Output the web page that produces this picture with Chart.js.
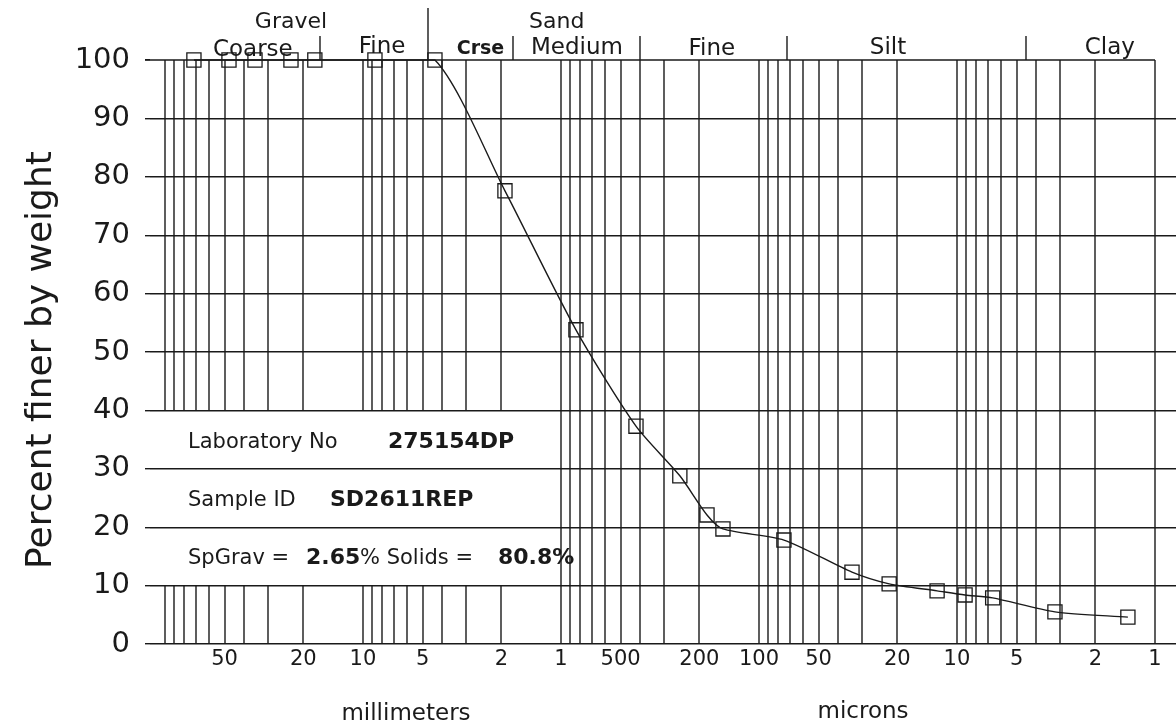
<!DOCTYPE html>
<html>
<head>
<meta charset="utf-8">
<script src="https://cdn.jsdelivr.net/npm/chart.js@4.4.1/dist/chart.umd.min.js"></script>
<style>
  html, body { margin: 0; padding: 0; background: #fff; overflow: hidden; }
  #grain { display: block; }
</style>
</head>
<body>
<canvas id="grain" width="1176" height="727"></canvas>
<script>
// particle size (microns) and percent finer by weight
const sizeUm = [71400, 47500, 35100, 23100, 17500, 8700, 4330, 1918, 840, 418, 251, 183, 152, 74.8, 33.9, 22.0, 12.6, 9.1, 6.6, 3.2, 1.37]
const percentFiner = [100, 100, 100, 100, 100, 100, 100, 77.6, 53.8, 37.3, 28.8, 22.1, 19.7, 17.8, 12.3, 10.3, 9.1, 8.4, 7.9, 5.5, 4.6]

// labelled sizes on the bottom axis (microns); >= 1000 shown in mm
const xLabelValues = [50000, 20000, 10000, 5000, 2000, 1000, 500, 200, 100, 50, 20, 10, 5, 2, 1]
const yLabelValues = [0, 10, 20, 30, 40, 50, 60, 70, 80, 90, 100]

// class boundaries across the top (microns)
const classBreaks = [16500, 4700, 1750, 400, 72, 4.5]
const classNames = ['Gravel', 'Coarse', 'Fine', 'Sand', 'Crse', 'Medium', 'Fine', 'Silt', 'Clay']

const sampleInfo = ['Laboratory No', '275154DP', 'Sample ID', 'SD2611REP', 'SpGrav =', '2.65', '% Solids =', '80.8%']

const FONT = 'DejaVu Sans'
const INK = '#1a1a1a'

// log grid 1..9 per decade, 1 um .. 100 mm
const gridValues = []
for (let k = 0; k <= 4; k++) {
  for (let d = 1; d <= 9; d++) gridValues.push(d * Math.pow(10, k))
}
gridValues.push(100000)

const points = sizeUm.map((s, i) => ({ x: s, y: percentFiner[i] }))

const sheetPlugin = {
  id: 'sheet',
  beforeDatasetsDraw (chart) {
    const { ctx, chartArea, scales } = chart
    const x = scales.x
    const y = scales.y
    const top = y.getPixelForValue(100)
    const bot = y.getPixelForValue(0)
    const gapTop = y.getPixelForValue(40)
    const gapBot = y.getPixelForValue(10)

    ctx.save()
    ctx.strokeStyle = INK
    ctx.lineWidth = 1.4
    ctx.beginPath()
    gridValues.forEach(v => {
      const px = Math.round(x.getPixelForValue(v))
      if (v > 1000) {
        ctx.moveTo(px, top); ctx.lineTo(px, gapTop)
        ctx.moveTo(px, gapBot); ctx.lineTo(px, bot)
      } else {
        ctx.moveTo(px, top); ctx.lineTo(px, bot)
      }
    })
    // top border stops at 1 micron
    const t = Math.round(top)
    ctx.moveTo(chartArea.left - 5, t)
    ctx.lineTo(Math.round(x.getPixelForValue(1)), t)
    // class separators in the header
    classBreaks.forEach(v => {
      const px = Math.round(x.getPixelForValue(v))
      ctx.moveTo(px, v === 4700 ? top - 52 : top - 24)
      ctx.lineTo(px, top)
    })
    ctx.stroke()

    // header names
    ctx.fillStyle = INK
    ctx.textAlign = 'center'
    ctx.textBaseline = 'alphabetic'
    const header = [
      [classNames[0], 23100, -32, '22px'], [classNames[1], 36000, -4, '23px'],
      [classNames[2], 8000, -7, '23px'], [classNames[3], 1050, -32, '22px'],
      [classNames[4], 2550, -6, 'bold 19px'], [classNames[5], 830, -6, '23px'],
      [classNames[6], 173, -5, '23px'], [classNames[7], 22.3, -6, '23px'],
      [classNames[8], 1.69, -6, '23px']
    ]
    header.forEach(([txt, v, dy, f]) => {
      ctx.font = f + ' ' + FONT
      ctx.fillText(txt, x.getPixelForValue(v), top + dy)
    })

    // sample info written over the grid lines
    ctx.textAlign = 'left'
    const L = chartArea.left
    const rows = [
      [y.getPixelForValue(35), [[sampleInfo[0], 38, false], [sampleInfo[1], 238, true]]],
      [y.getPixelForValue(25), [[sampleInfo[2], 38, false], [sampleInfo[3], 180, true]]],
      [y.getPixelForValue(15), [[sampleInfo[4], 38, false], [sampleInfo[5], 156, true],
        [sampleInfo[6], 210, false], [sampleInfo[7], 348, true]]]
    ]
    rows.forEach(([ly, parts]) => {
      parts.forEach(([txt, dx, bold]) => {
        ctx.font = (bold ? 'bold 22px ' : '21px ') + FONT
        ctx.fillText(txt, L + dx, ly + 8)
      })
    })

    // axis titles
    ctx.textAlign = 'center'
    ctx.font = '23px ' + FONT
    ctx.fillText('millimeters', 406, 720)
    ctx.fillText('microns', 863, 718)

    ctx.translate(42, 360)
    ctx.rotate(-Math.PI / 2)
    ctx.font = '36px ' + FONT
    ctx.textBaseline = 'middle'
    ctx.fillText('Percent finer by weight', 0, 0)
    ctx.restore()
  }
}

const ctx = document.getElementById('grain').getContext('2d')
new Chart(ctx, {
  type: 'scatter',
  data: {
    datasets: [{
      label: 'Percent finer',
      data: points,
      showLine: true,
      tension: 0.25,
      borderColor: INK,
      borderWidth: 1.4,
      pointStyle: 'rect',
      pointRadius: 10,
      pointHoverRadius: 10,
      pointBackgroundColor: 'rgba(0,0,0,0)',
      pointBorderColor: INK,
      pointBorderWidth: 1.3,
      clip: false
    }]
  },
  options: {
    responsive: false,
    animation: false,
    layout: { autoPadding: false, padding: { top: 60, right: 0, bottom: 0, left: 0 } },
    elements: { line: { capBezierPoints: true } },
    plugins: {
      legend: { display: false },
      tooltip: { enabled: false }
    },
    scales: {
      x: {
        type: 'logarithmic',
        reverse: true,
        min: 0.783,
        max: 119000,
        afterBuildTicks: s => { s.ticks = gridValues.map(v => ({ value: v })) },
        afterFit: s => { s.height = 83 },
        grid: { display: false, drawTicks: false },
        border: { display: false },
        ticks: {
          autoSkip: false,
          maxRotation: 0,
          padding: 3,
          color: INK,
          font: { family: FONT, size: 21 },
          callback: v => xLabelValues.includes(v) ? String(v >= 1000 ? v / 1000 : v) : ''
        }
      },
      y: {
        min: 0,
        max: 100,
        afterFit: s => { s.width = 150 },
        border: { display: false },
        grid: {
          color: c => (c.tick && c.tick.value === 100) ? 'rgba(0,0,0,0)' : INK,
          tickColor: INK,
          tickLength: 5,
          lineWidth: 1.4
        },
        ticks: {
          stepSize: 5,
          padding: 15,
          color: INK,
          font: { family: FONT, size: 29 },
          callback: v => yLabelValues.includes(v) ? String(v) : ''
        }
      }
    }
  },
  plugins: [sheetPlugin]
})
</script>
</body>
</html>
